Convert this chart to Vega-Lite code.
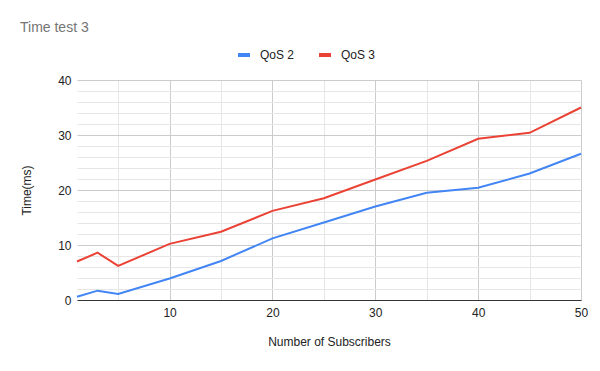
{
  "$schema": "https://vega.github.io/schema/vega-lite/v6.json",
  "autosize": {"type": "none"},
  "padding": {"left": 77, "top": 80, "right": 19, "bottom": 71},
  "width": 504,
  "height": 220,
  "background": "white",
  "title": {
    "text": "Time test 3",
    "anchor": "start",
    "frame": "group",
    "dx": -57,
    "offset": 1,
    "baseline": "alphabetic",
    "font": "Liberation Sans",
    "fontSize": 14,
    "fontWeight": "normal",
    "color": "#757575"
  },
  "config": {
    "view": {"stroke": null},
    "font": "Liberation Sans"
  },
  "data": {
    "values": [
      {"subs": 1, "series": "QoS 2", "time": 0.6},
      {"subs": 3, "series": "QoS 2", "time": 1.7},
      {"subs": 5, "series": "QoS 2", "time": 1.1},
      {"subs": 10, "series": "QoS 2", "time": 3.9},
      {"subs": 15, "series": "QoS 2", "time": 7.1},
      {"subs": 20, "series": "QoS 2", "time": 11.2},
      {"subs": 25, "series": "QoS 2", "time": 14.1},
      {"subs": 30, "series": "QoS 2", "time": 17.0},
      {"subs": 35, "series": "QoS 2", "time": 19.5},
      {"subs": 40, "series": "QoS 2", "time": 20.4},
      {"subs": 45, "series": "QoS 2", "time": 23.0},
      {"subs": 50, "series": "QoS 2", "time": 26.6},
      {"subs": 1, "series": "QoS 3", "time": 7.0},
      {"subs": 3, "series": "QoS 3", "time": 8.6},
      {"subs": 5, "series": "QoS 3", "time": 6.2},
      {"subs": 10, "series": "QoS 3", "time": 10.2},
      {"subs": 15, "series": "QoS 3", "time": 12.4},
      {"subs": 20, "series": "QoS 3", "time": 16.2},
      {"subs": 25, "series": "QoS 3", "time": 18.5},
      {"subs": 30, "series": "QoS 3", "time": 21.9},
      {"subs": 35, "series": "QoS 3", "time": 25.3},
      {"subs": 40, "series": "QoS 3", "time": 29.3},
      {"subs": 45, "series": "QoS 3", "time": 30.4},
      {"subs": 50, "series": "QoS 3", "time": 35.0}
    ]
  },
  "mark": {"type": "line", "strokeWidth": 2},
  "encoding": {
    "x": {
      "field": "subs",
      "type": "quantitative",
      "scale": {"domain": [1, 50], "nice": false, "zero": false},
      "axis": {
        "title": "Number of Subscribers",
        "values": [5, 10, 15, 20, 25, 30, 35, 40, 45, 50],
        "labelExpr": "datum.value % 10 === 0 ? datum.label : ''",
        "labelFlush": false,
        "labelOverlap": false,
        "grid": true,
        "gridColor": {"condition": {"test": "datum.value % 10 === 0", "value": "#cccccc"}, "value": "#e6e6e6"},
        "gridWidth": 1,
        "ticks": false,
        "domain": true,
        "domainColor": "#333333",
        "domainWidth": 1,
        "labelFont": "Liberation Sans",
        "labelFontSize": 12,
        "labelColor": "#222222",
        "labelPadding": 7,
        "titleFont": "Liberation Sans",
        "titleFontSize": 12,
        "titleFontWeight": "normal",
        "titleColor": "#222222",
        "titlePadding": 18
      }
    },
    "y": {
      "field": "time",
      "type": "quantitative",
      "scale": {"domain": [0, 40], "nice": false},
      "axis": {
        "title": "Time(ms)",
        "values": [0, 2, 4, 6, 8, 10, 12, 14, 16, 18, 20, 22, 24, 26, 28, 30, 32, 34, 36, 38, 40],
        "labelExpr": "datum.value % 10 === 0 ? datum.label : ''",
        "labelFlush": false,
        "labelOverlap": false,
        "grid": true,
        "gridColor": {"condition": {"test": "datum.value % 10 === 0", "value": "#cccccc"}, "value": "#e6e6e6"},
        "ticks": false,
        "domain": false,
        "labelFont": "Liberation Sans",
        "labelFontSize": 12,
        "labelColor": "#222222",
        "labelPadding": 6,
        "titleFont": "Liberation Sans",
        "titleFontSize": 12,
        "titleFontWeight": "normal",
        "titleColor": "#222222",
        "titlePadding": 24
      }
    },
    "color": {
      "field": "series",
      "type": "nominal",
      "scale": {"domain": ["QoS 2", "QoS 3"], "range": ["#4285f4", "#ea4335"]},
      "legend": {
        "title": null,
        "orient": "none",
        "direction": "horizontal",
        "legendX": 159,
        "legendY": -33,
        "symbolType": "stroke",
        "symbolSize": 144,
        "symbolStrokeWidth": 4,
        "labelFont": "Liberation Sans",
        "labelFontSize": 12,
        "labelColor": "#222222",
        "labelOffset": 8,
        "columnPadding": 16
      }
    }
  }
}
